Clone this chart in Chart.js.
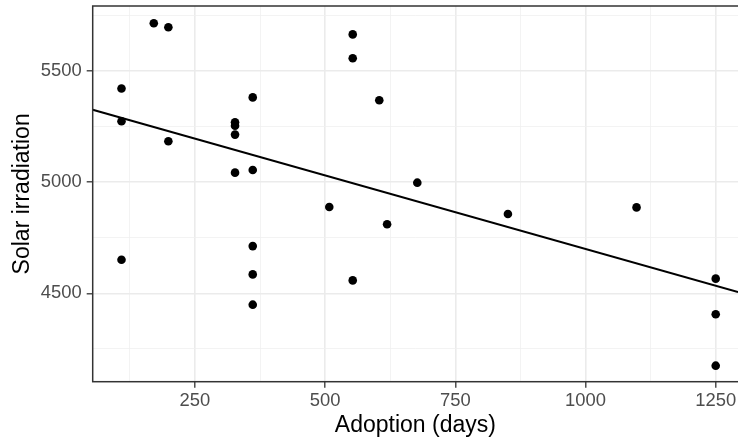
<!DOCTYPE html>
<html>
<head>
<meta charset="utf-8">
<script src="https://cdn.jsdelivr.net/npm/chart.js@4.4.1/dist/chart.umd.min.js"></script>
<style>
  html, body { margin: 0; padding: 0; background: #fff; }
  #wrap { width: 738px; height: 447px; position: relative; }
</style>
</head>
<body>
<div id="wrap"><canvas id="chart"></canvas></div>
<script>
// adoption time (days) and solar irradiation per observation
const days = [171, 199, 109, 109, 199, 553, 553, 604, 361, 327, 327, 327, 327, 361,
  109, 361, 361, 361, 508, 553, 677, 619, 851, 1098, 1250, 1250, 1250]
const irradiation = [5713, 5695, 5420, 5273, 5183, 5663, 5556, 5367, 5380, 5268, 5253, 5213, 5042, 5054,
  4651, 4712, 4585, 4449, 4888, 4558, 4997, 4810, 4856, 4886, 4566, 4406, 4175]

const xTicksMajor = [250, 500, 750, 1000, 1250]
const xTicksMinor = [125, 375, 625, 875, 1125]
const yTicksMajor = [4500, 5000, 5500]
const yTicksMinor = [4250, 4750, 5250, 5750]

const xRange = [53.7, 1292.8]
const yRange = [4103, 5790.6]

// least squares fit, like geom_smooth(method = 'lm')
const n = days.length
const mx = days.reduce((a, b) => a + b, 0) / n
const my = irradiation.reduce((a, b) => a + b, 0) / n
let sxy = 0, sxx = 0
days.forEach((x, i) => {
  sxy += (x - mx) * (irradiation[i] - my)
  sxx += (x - mx) * (x - mx)
})
const slope = sxy / sxx
const intercept = my - slope * mx
const fitLine = xRange.map((x) => ({ x: x, y: intercept + slope * x }))

const points = days.map((d, i) => ({ x: d, y: irradiation[i] }))

const panelBorder = {
  id: 'panelBorder',
  afterDraw(chart) {
    const { ctx, chartArea } = chart
    ctx.save()
    ctx.strokeStyle = '#333333'
    ctx.lineWidth = 1.5
    ctx.strokeRect(chartArea.left, chartArea.top, chartArea.width + 20, chartArea.height)
    ctx.restore()
  },
}

const font = { family: 'Liberation Sans, Arial, sans-serif', size: 18.4 }
const titleFont = { family: 'Liberation Sans, Arial, sans-serif', size: 23 }

const gridOpts = (major) => ({
  color: (c) => (major.includes(c.tick.value) ? '#EBEBEB' : '#F0F0F0'),
  lineWidth: (c) => (major.includes(c.tick.value) ? 1.6 : 0.8),
  tickColor: (c) => (major.includes(c.tick.value) ? '#333333' : 'rgba(0,0,0,0)'),
  tickWidth: 1.3,
  tickLength: 6,
})

const setTicks = (major, minor) => (scale) => {
  scale.ticks = major.concat(minor).sort((a, b) => a - b).map((v) => ({ value: v }))
}

// keep the panel where the reference has it: no extra room for edge labels
const fixSize = (prop, size) => (scale) => {
  scale[prop] = size
  scale.paddingTop = 0
  scale.paddingBottom = 0
  scale.paddingLeft = 0
  scale.paddingRight = 0
}

new Chart(document.getElementById('chart'), {
  type: 'scatter',
  data: {
    datasets: [
      {
        label: 'observations',
        data: points,
        backgroundColor: '#000000',
        borderWidth: 0,
        pointRadius: 4.3,
        pointHoverRadius: 4.3,
      },
      {
        label: 'fit',
        type: 'line',
        data: fitLine,
        borderColor: '#000000',
        borderWidth: 2,
        pointRadius: 0,
        fill: false,
        tension: 0,
      },
    ],
  },
  options: {
    responsive: true,
    maintainAspectRatio: false,
    animation: false,
    // the panel runs up to the right edge of the picture
    layout: { autoPadding: false, padding: { top: 6, right: 0, bottom: 0, left: 0 } },
    plugins: { legend: { display: false }, tooltip: { enabled: false } },
    scales: {
      x: {
        type: 'linear',
        min: xRange[0],
        max: xRange[1],
        border: { display: false },
        grid: gridOpts(xTicksMajor),
        afterBuildTicks: setTicks(xTicksMajor, xTicksMinor),
        ticks: {
          autoSkip: false,
          maxRotation: 0,
          padding: 2.5,
          color: '#4D4D4D',
          font: font,
          callback: (v) => (xTicksMajor.includes(v) ? String(v) : ''),
        },
        title: {
          display: true,
          text: 'Adoption (days)',
          color: '#000000',
          padding: { top: 0, bottom: 7.4 },
          font: titleFont,
        },
        afterFit: fixSize('height', 65.3),
      },
      y: {
        type: 'linear',
        min: yRange[0],
        max: yRange[1],
        border: { display: false },
        grid: gridOpts(yTicksMajor),
        afterBuildTicks: setTicks(yTicksMajor, yTicksMinor),
        ticks: {
          autoSkip: false,
          padding: 5,
          color: '#4D4D4D',
          font: font,
          callback: (v) => (yTicksMajor.includes(v) ? String(v) : ''),
        },
        title: {
          display: true,
          text: 'Solar irradiation',
          color: '#000000',
          padding: { top: 8.4, bottom: 0 },
          font: titleFont,
        },
        afterFit: fixSize('width', 92.7),
      },
    },
  },
  plugins: [panelBorder],
})
</script>
</body>
</html>
